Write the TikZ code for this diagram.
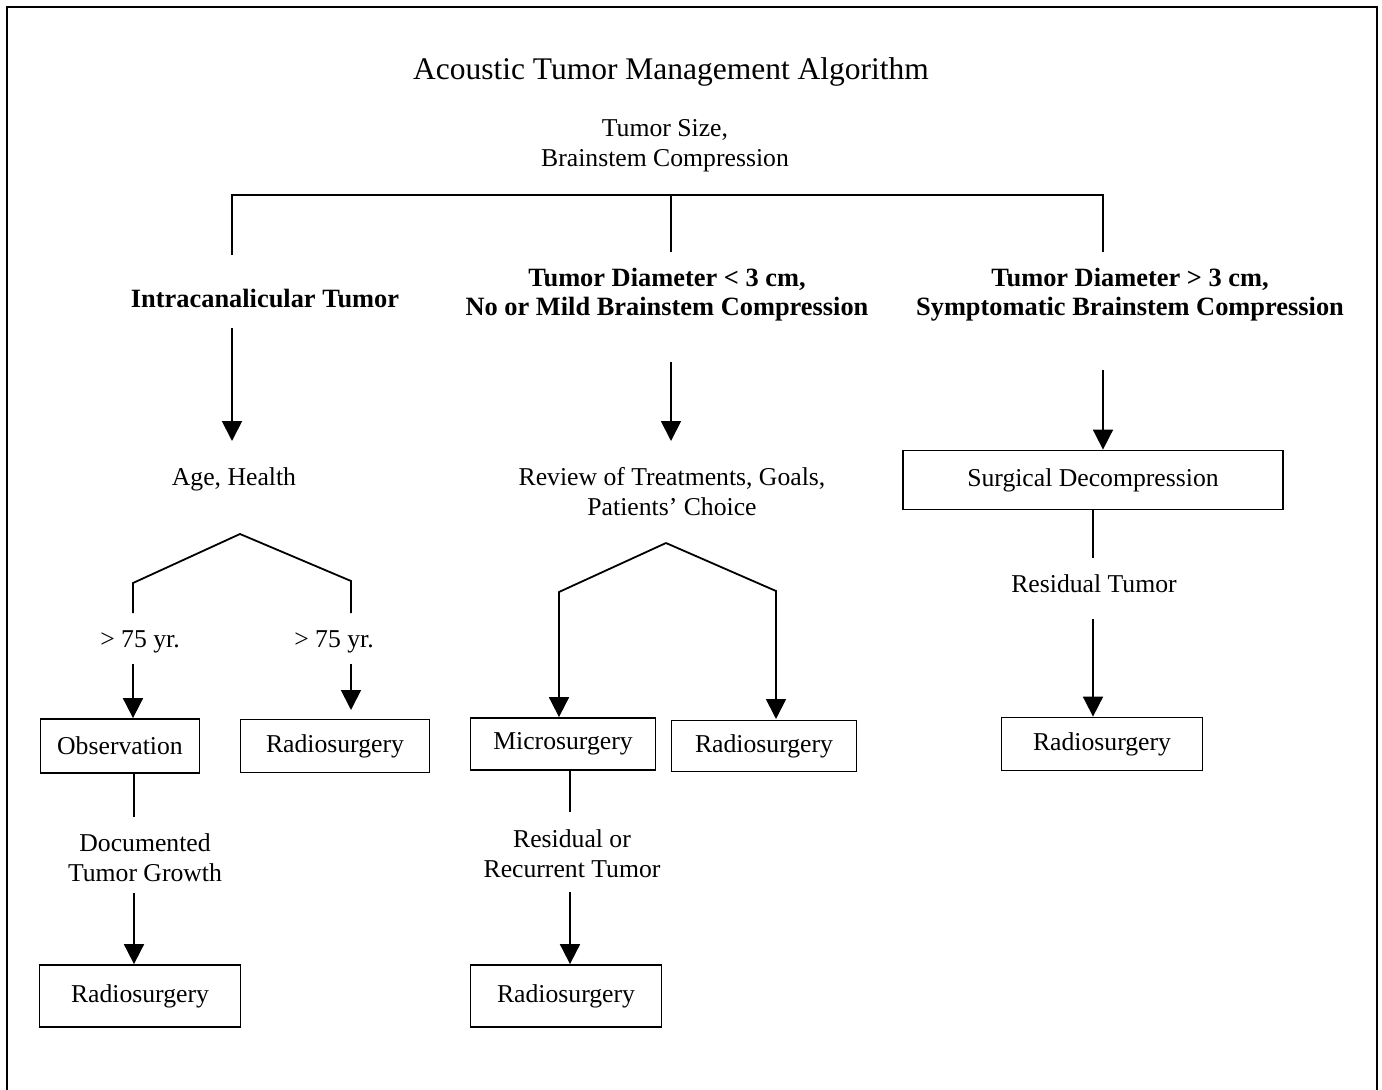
\documentclass[tikz,border=0pt]{standalone}
\usepackage{fontspec}
\setmainfont{Liberation Serif}
\usetikzlibrary{arrows.meta}
\begin{document}
\begin{tikzpicture}[x=1pt,y=-1pt,
  every node/.style={inner sep=0pt,font=\fontsize{25.7}{30}\selectfont},
  lbl/.style={align=center},
  hd/.style={align=center,font=\fontsize{26.4}{29}\selectfont\bfseries},
  box/.style={draw,line width=1.8pt,align=center},
  ln/.style={line width=1.8pt},
  arr/.style={line width=1.8pt,-{Triangle[length=20pt,width=20pt]}}]
\useasboundingbox (0,0) rectangle (1382,1090);
\draw[line width=2pt] (7,1090) -- (7,7) -- (1377,7) -- (1377,1090);

% texts
\node (title) at (671,72) {\fontsize{31.5}{36}\selectfont Acoustic Tumor Management Algorithm};
\node[lbl] (ts) at (665,146) {Tumor Size,\\Brainstem Compression};
\node[hd] (ict) at (265,298) {Intracanalicular Tumor};
\node[hd] (mid) at (667,295) {Tumor Diameter < 3 cm,\\No or Mild Brainstem Compression};
\node[hd] (rgt) at (1130,295) {Tumor Diameter > 3 cm,\\Symptomatic Brainstem Compression};
\node (age) at (234,479) {Age, Health};
\node[lbl] (rev) at (672,492) {Review of Treatments, Goals,\\Patients’ Choice};
\node (res) at (1094,584) {Residual Tumor};
\node (gt1) at (140,642) {> 75 yr.};
\node (gt2) at (334,642) {> 75 yr.};
\node[lbl] (doc) at (145,858) {Documented\\Tumor Growth};
\node[lbl] (rr) at (572,854) {Residual or\\Recurrent Tumor};

% boxes
\node[box,minimum width=380pt,minimum height=59pt] (sd) at (1093,480) {Surgical Decompression};
\node[box,minimum width=201pt,minimum height=53pt] (rs3) at (1102,744) {Radiosurgery};
\node[box,minimum width=159pt,minimum height=54pt] (obs) at (120,746) {Observation};
\node[box,minimum width=189pt,minimum height=53pt] (rs1) at (335,746) {Radiosurgery};
\node[box,minimum width=201pt,minimum height=62pt] (rs1b) at (140,996) {Radiosurgery};
\node[box,minimum width=185pt,minimum height=52pt] (ms) at (563,744) {Microsurgery};
\node[box,minimum width=185pt,minimum height=51pt] (rs2) at (764,746) {Radiosurgery};
\node[box,minimum width=191pt,minimum height=62pt] (rs2b) at (566,996) {Radiosurgery};

% top bracket
\coordinate (bl) at (232,195);
\coordinate (bm) at (671,195);
\coordinate (br) at (1103,195);
\draw[ln] (232,255) -- (bl) -- (br) -- (1103,252);
\draw[ln] (bm) -- (671,252);

% column arrows
\draw[arr] (232,328) -- (232,441);
\draw[arr] (671,362) -- (671,441);
\draw[arr] (1103,370) -- (sd.north -| 1103,0);

% left fork
\coordinate (lp) at (240,534);
\coordinate (ll) at (133,583);
\coordinate (lr) at (351,581);
\draw[ln] (133,613) -- (ll) -- (lp) -- (lr) -- (351,613);
\draw[arr] (133,664) -- (obs.north -| 133,0);
\draw[arr] (351,664) -- (351,710);
\draw[ln] (obs.south -| 134,0) -- (134,817);
\draw[arr] (134,893) -- (rs1b.north -| 134,0);

% middle fork
\coordinate (mp) at (666,543);
\coordinate (ml) at (559,592);
\coordinate (mr) at (776,591);
\draw[arr] (mp) -- (ml) -- (ms.north -| ml);
\draw[arr] (mp) -- (mr) -- (776,719);
\draw[ln] (ms.south -| 570,0) -- (570,812);
\draw[arr] (570,892) -- (rs2b.north -| 570,0);

% right column
\draw[ln] (sd.south -| 1093,0) -- (1093,558);
\draw[arr] (1093,619) -- (rs3.north -| 1093,0);
\end{tikzpicture}
\end{document}
